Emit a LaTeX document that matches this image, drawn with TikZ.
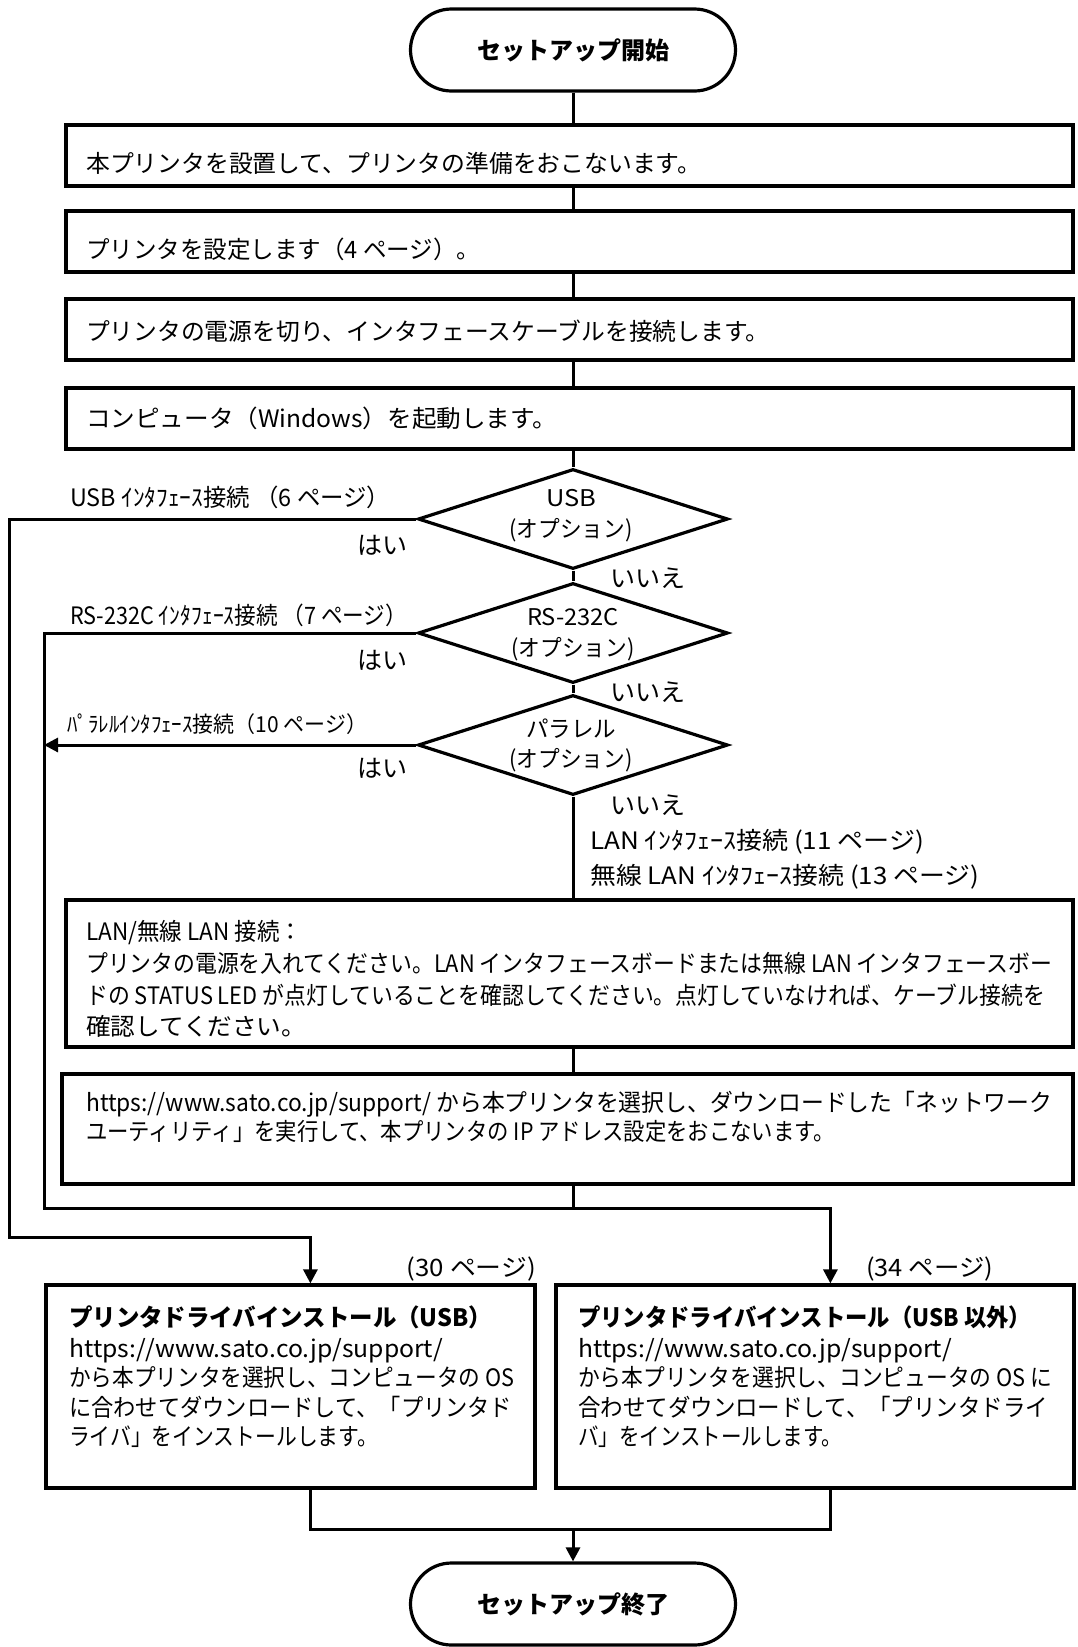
\documentclass[tikz,border=0pt]{standalone}
\usepackage{fontspec}
\usepackage{graphicx}
\setmainfont{Noto Sans CJK JP}
\usetikzlibrary{shapes.geometric,arrows.meta}
\newcommand{\fitw}[2]{\resizebox{#1}{\height}{#2}}
\begin{document}
\begin{tikzpicture}[x=1pt,y=-1pt,
  box/.style={draw,line width=3.2pt,rectangle,inner sep=0pt},
  term/.style={draw,line width=3.2pt,rectangle,rounded corners=41pt,minimum width=325pt,minimum height=82pt,inner sep=0pt,font=\fontsize{24pt}{28pt}\selectfont\bfseries},
  dec/.style={draw,line width=3.2pt,diamond,minimum width=310pt,minimum height=100pt,inner sep=0pt},
  conn/.style={line width=3pt},
  arr/.style={line width=3pt,-{Triangle[length=14pt,width=14pt]}},
  txt/.style={inner sep=0pt,anchor=base west,font=\fontsize{24pt}{28pt}\selectfont},
  btxt/.style={inner sep=0pt,anchor=base west,font=\fontsize{24pt}{28pt}\selectfont\bfseries},
  ctxt/.style={inner sep=0pt,anchor=base,font=\fontsize{23pt}{27pt}\selectfont},
  yn/.style={inner sep=0pt,anchor=base west,font=\fontsize{25pt}{29pt}\selectfont},
  small/.style={inner sep=0pt,anchor=base west,font=\fontsize{22pt}{26pt}\selectfont}
]
\useasboundingbox (0,0) rectangle (1078,1647);

% terminators
\node[term] (start) at (573,50) {セットアップ開始};
\node[term] (end) at (573,1604) {セットアップ終了};

% process boxes
\node[box,minimum width=1007pt,minimum height=61pt] (b1) at (569.5,155.5) {};
\node[box,minimum width=1007pt,minimum height=61pt] (b2) at (569.5,241.5) {};
\node[box,minimum width=1007pt,minimum height=61pt] (b3) at (569.5,329.5) {};
\node[box,minimum width=1007pt,minimum height=61pt] (b4) at (569.5,418.5) {};
\node[box,minimum width=1007pt,minimum height=147pt] (lan) at (569.5,973.5) {};
\node[box,minimum width=1011pt,minimum height=110pt] (https) at (567.5,1129) {};
\node[box,minimum width=489pt,minimum height=203pt] (b5) at (290.5,1386.5) {};
\node[box,minimum width=518pt,minimum height=203pt] (b6) at (815,1386.5) {};

% decisions
\node[dec] (d1) at (573,519) {};
\node[dec] (d2) at (573,633) {};
\node[dec] (d3) at (573,745) {};

% box texts
\node[txt] (t1) at (86,172) {\fitw{615pt}{本プリンタを設置して、プリンタの準備をおこないます。}};
\node[txt] (t2) at (86,258) {\fitw{394pt}{プリンタを設定します（4 ページ）。}};
\node[txt] (t3) at (86,340) {\fitw{683pt}{プリンタの電源を切り、インタフェースケーブルを接続します。}};
\node[txt] (t4) at (86,427) {\fitw{471pt}{コンピュータ（Windows）を起動します。}};

% decision texts
\node[ctxt] (d1a) at (571,506) {\fitw{50pt}{USB}};
\node[ctxt] (d1b) at (571,537) {\fitw{123pt}{(オプション)}};
\node[ctxt] (d2a) at (573,625) {\fitw{92pt}{RS-232C}};
\node[ctxt] (d2b) at (573,656) {\fitw{123pt}{(オプション)}};
\node[ctxt] (d3a) at (571,737) {\fitw{90pt}{パラレル}};
\node[ctxt] (d3b) at (571,767) {\fitw{123pt}{(オプション)}};

% branch labels
\node[txt] (lu) at (70,506) {\fitw{320pt}{USB ｲﾝﾀﾌｪｰｽ接続 （6 ページ）}};
\node[yn,anchor=base east] (y1) at (408,554) {はい};
\node[yn] (n1) at (610,587) {いいえ};
\node[txt] (lr) at (70,624) {\fitw{337pt}{RS-232C ｲﾝﾀﾌｪｰｽ接続 （7 ページ）}};
\node[yn,anchor=base east] (y2) at (408,669) {はい};
\node[yn] (n2) at (610,701) {いいえ};
\node[small] (lp) at (67,732) {\fitw{300pt}{ﾊﾟﾗﾚﾙｲﾝﾀﾌｪｰｽ接続（10 ページ）}};
\node[yn,anchor=base east] (y3) at (408,777) {はい};
\node[yn] (n3) at (610,814) {いいえ};
\node[txt] (ll1) at (590,849) {\fitw{334pt}{LAN ｲﾝﾀﾌｪｰｽ接続 (11 ページ)}};
\node[txt] (ll2) at (590,884) {\fitw{389pt}{無線 LAN ｲﾝﾀﾌｪｰｽ接続 (13 ページ)}};

% LAN box text
\node[txt] (la1) at (86,940) {\fitw{216pt}{LAN/無線 LAN 接続：}};
\node[txt] (la2) at (86,972) {\fitw{966pt}{プリンタの電源を入れてください。LAN インタフェースボードまたは無線 LAN インタフェースボー}};
\node[txt] (la3) at (86,1004) {\fitw{959pt}{ドの STATUS LED が点灯していることを確認してください。点灯していなければ、ケーブル接続を}};
\node[txt] (la4) at (86,1035) {\fitw{220pt}{確認してください。}};

% https box text
\node[txt] (h1) at (86,1111) {\fitw{966pt}{https://www.sato.co.jp/support/ から本プリンタを選択し、ダウンロードした「ネットワーク}};
\node[txt] (h2) at (86,1140) {\fitw{749pt}{ユーティリティ」を実行して、本プリンタの IP アドレス設定をおこないます。}};

% page labels
\node[txt,anchor=base east] (pg30) at (536,1276) {\fitw{129pt}{(30 ページ)}};
\node[txt] (pg34) at (866,1276) {\fitw{127pt}{(34 ページ)}};

% left bottom box text
\node[btxt] (p1) at (69,1326) {\fitw{423pt}{プリンタドライバインストール（USB）}};
\node[txt] (p2) at (69,1357) {\fitw{374pt}{https://www.sato.co.jp/support/}};
\node[txt] (p3) at (69,1386) {\fitw{445pt}{から本プリンタを選択し、コンピュータの OS}};
\node[txt] (p4) at (69,1416) {\fitw{443pt}{に合わせてダウンロードして、「プリンタド}};
\node[txt] (p5) at (69,1445) {\fitw{309pt}{ライバ」をインストールします。}};

% right bottom box text
\node[btxt] (q1) at (578,1326) {\fitw{453pt}{プリンタドライバインストール（USB 以外）}};
\node[txt] (q2) at (578,1357) {\fitw{374pt}{https://www.sato.co.jp/support/}};
\node[txt] (q3) at (578,1386) {\fitw{474pt}{から本プリンタを選択し、コンピュータの OS に}};
\node[txt] (q4) at (578,1416) {\fitw{470pt}{合わせてダウンロードして、「プリンタドライ}};
\node[txt] (q5) at (578,1445) {\fitw{264pt}{バ」をインストールします。}};

% helper coordinates
\coordinate (uL) at (9,1237);
\coordinate (rsL) at (44,1208);
\coordinate (jn) at (573,1529);

% main line
\draw[conn] (start.south) -- (start.south |- b1.north);
\draw[conn] (start.south |- b1.south) -- (start.south |- b2.north);
\draw[conn] (start.south |- b2.south) -- (start.south |- b3.north);
\draw[conn] (start.south |- b3.south) -- (start.south |- b4.north);
\draw[conn] (start.south |- b4.south) -- (d1.north);
\draw[conn] (d1.south) -- (d2.north);
\draw[conn] (d2.south) -- (d3.north);
\draw[conn] (d3.south) -- (d3.south |- lan.north);
\draw[conn] (d3.south |- lan.south) -- (d3.south |- https.north);
\draw[conn] (d3.south |- https.south) -- (d3.south |- rsL);

% branches
\draw[arr] (d1.west) -| (uL) -| ([xshift=266pt]b5.north west);
\draw[arr] (d2.west) -| (rsL) -| ([xshift=276pt]b6.north west);
\draw[arr] (d3.west) -- (d3.west -| rsL);

% join to end
\draw[conn] ([xshift=266pt]b5.south west) |- (jn) -| ([xshift=276pt]b6.south west);
\draw[arr] (jn) -- (end.north);
\end{tikzpicture}
\end{document}
